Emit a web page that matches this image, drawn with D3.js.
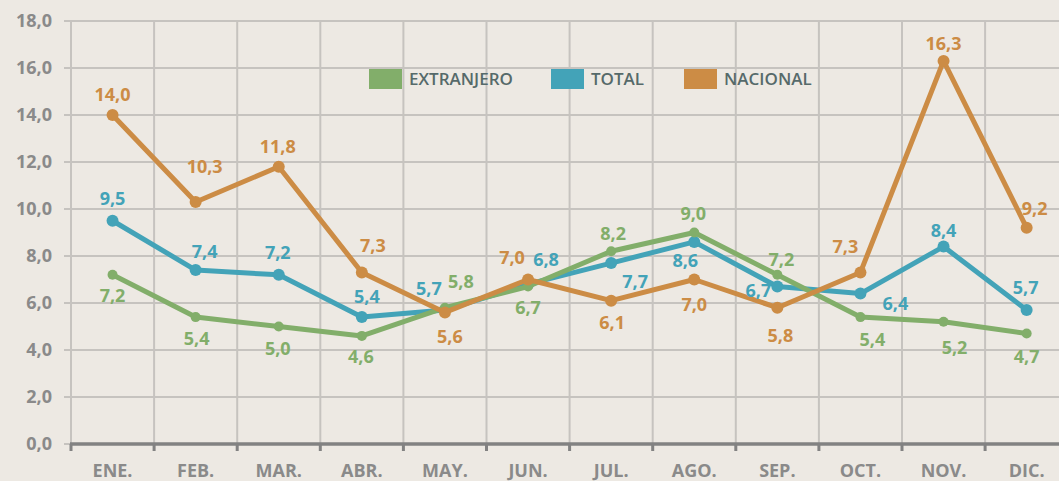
<!DOCTYPE html>
<html>
<head>
<meta charset="utf-8">
<script src="https://cdn.jsdelivr.net/npm/d3@7"></script>
<style>
  body { margin: 0; background: #ede9e3; }
  svg { display: block; font-family: "Open Sans", sans-serif; }
</style>
</head>
<body>
<div id="chart"></div>
<script>
var months = ["ENE.", "FEB.", "MAR.", "ABR.", "MAY.", "JUN.", "JUL.", "AGO.", "SEP.", "OCT.", "NOV.", "DIC."];
var extranjero = [7.2, 5.4, 5.0, 4.6, 5.8, 6.7, 8.2, 9.0, 7.2, 5.4, 5.2, 4.7];
var total = [9.5, 7.4, 7.2, 5.4, 5.7, 6.8, 7.7, 8.6, 6.7, 6.4, 8.4, 5.7];
var nacional = [14.0, 10.3, 11.8, 7.3, 5.6, 7.0, 6.1, 7.0, 5.8, 7.3, 16.3, 9.2];
var yTicks = [0, 2, 4, 6, 8, 10, 12, 14, 16, 18];

// label offsets from each point (dx, dy), hand placed like the original
var extOffsets = [[0,21],[1,21],[-1,22],[-1,21],[16,-26],[0,21],[2,-18],[-1,-19],[4,-15],[12,22],[11,26],[0,23]];
var totOffsets = [[0,-22],[9,-19],[-1,-22],[5,-21],[-16,-22],[18,-25],[24,18],[-9,19],[-19,4],[35,10],[0,-16],[-1,-23]];
var nacOffsets = [[0,-20],[9,-35],[-1,-20],[11,-27],[5,24],[-16,-22],[1,22],[0,25],[3,28],[-15,-26],[0,-17],[8,-19]];

var series = [
  {name: "TOTAL", values: total, color: "#43a3b8", r: 6, offsets: totOffsets},
  {name: "EXTRANJERO", values: extranjero, color: "#82ae6a", r: 5, offsets: extOffsets},
  {name: "NACIONAL", values: nacional, color: "#cc8c45", r: 6, offsets: nacOffsets}
];
var legendOrder = ["EXTRANJERO", "TOTAL", "NACIONAL"];

var width = 1059, height = 481;
var margin = {top: 21, left: 71, bottom: 37};
var bandW = 83.1;

var svg = d3.select("#chart").append("svg")
    .attr("width", width)
    .attr("height", height);

svg.append("rect").attr("width", width).attr("height", height).attr("fill", "#ede9e3");

var x = d3.scaleBand()
    .domain(months)
    .range([margin.left, margin.left + bandW * months.length]);

var y = d3.scaleLinear()
    .domain([0, 18])
    .range([height - margin.bottom, margin.top]);

var y0 = y(0);

// horizontal grid
svg.append("g").selectAll("line")
    .data(yTicks.slice(1))
    .enter().append("line")
    .attr("x1", 64).attr("x2", width)
    .attr("y1", function(d) { return y(d); })
    .attr("y2", function(d) { return y(d); })
    .style("stroke", "#c6c3bf")
    .style("stroke-width", 2);

// vertical grid
svg.append("g").selectAll("line")
    .data(months)
    .enter().append("line")
    .attr("x1", function(d) { return x(d); })
    .attr("x2", function(d) { return x(d); })
    .attr("y1", y(18)).attr("y2", y0)
    .style("stroke", "#c6c3bf")
    .style("stroke-width", 2);

// bottom axis
svg.append("line")
    .attr("x1", 64).attr("x2", 71).attr("y1", y0).attr("y2", y0)
    .style("stroke", "#c6c3bf").style("stroke-width", 2);
svg.append("line")
    .attr("x1", 70).attr("x2", width).attr("y1", y0).attr("y2", y0)
    .style("stroke", "#828282").style("stroke-width", 3.5);
svg.append("g").selectAll("line")
    .data(months)
    .enter().append("line")
    .attr("x1", function(d) { return x(d); })
    .attr("x2", function(d) { return x(d); })
    .attr("y1", y0).attr("y2", y0 + 7)
    .style("stroke", "#828282")
    .style("stroke-width", 3);

// y labels
var fmt = function(d) { return d3.format(".1f")(d).replace(".", ","); };
svg.append("g").selectAll("text")
    .data(yTicks)
    .enter().append("text")
    .attr("x", 52)
    .attr("y", function(d) { return y(d); })
    .attr("dy", "0.36em")
    .attr("text-anchor", "end")
    .style("font-size", "18px")
    .style("font-weight", "bold")
    .style("fill", "#8a8a8a")
    .text(fmt);

// month labels
svg.append("g").selectAll("text")
    .data(months)
    .enter().append("text")
    .attr("x", function(d) { return x(d) + x.bandwidth() / 2; })
    .attr("y", 477)
    .attr("text-anchor", "middle")
    .style("font-size", "18px")
    .style("font-weight", "bold")
    .style("fill", "#8a8a8a")
    .text(function(d) { return d; });

var cx = function(d, i) { return x(months[i]) + x.bandwidth() / 2; };

var line = d3.line()
    .x(cx)
    .y(function(d) { return y(d); });

series.forEach(function(s) {
    var g = svg.append("g");
    g.append("path")
        .datum(s.values)
        .attr("d", line)
        .style("fill", "none")
        .style("stroke", s.color)
        .style("stroke-width", 5)
        .style("stroke-linejoin", "round");
    g.selectAll("circle")
        .data(s.values)
        .enter().append("circle")
        .attr("cx", cx)
        .attr("cy", function(d) { return y(d); })
        .attr("r", s.r)
        .style("fill", s.color);
});

// value labels on top
series.forEach(function(s) {
    svg.append("g").selectAll("text")
        .data(s.values)
        .enter().append("text")
        .attr("x", function(d, i) { return cx(d, i) + s.offsets[i][0]; })
        .attr("y", function(d, i) { return y(d) + s.offsets[i][1]; })
        .attr("dy", "0.36em")
        .attr("text-anchor", "middle")
        .style("font-size", "18px")
        .style("font-weight", "bold")
        .style("fill", s.color)
        .text(fmt);
});

// legend
var legendX = [369, 551, 684];
var legend = svg.append("g").selectAll("g")
    .data(legendOrder)
    .enter().append("g")
    .attr("transform", function(d, i) { return "translate(" + legendX[i] + ",69)"; });
legend.append("rect")
    .attr("width", 33).attr("height", 20)
    .style("fill", function(d) { return series.find(function(s) { return s.name === d; }).color; });
legend.append("text")
    .attr("x", 40).attr("y", 16)
    .style("font-size", "17px")
    .style("font-weight", "600")
    .style("fill", "#566a6a")
    .text(function(d) { return d; });
</script>
</body>
</html>
